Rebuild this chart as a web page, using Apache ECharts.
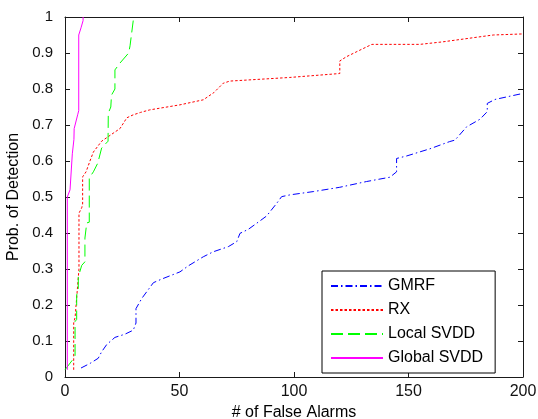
<!DOCTYPE html>
<html>
<head>
<meta charset="utf-8">
<script src="https://cdn.jsdelivr.net/npm/echarts@6/dist/echarts.min.js"></script>
<style>
html,body{margin:0;padding:0;background:#fff;}
#chart{width:538px;height:419px;}
</style>
</head>
<body>
<div id="chart"></div>
<script>
var seriesNames = ['GMRF', 'RX', 'Local SVDD', 'Global SVDD'];

var gmrfX = [7, 11, 14.5, 16, 18.2, 21.8, 26.2, 29.8, 31, 31, 33.5, 38.6, 42.2, 50.2, 53.9, 60.4, 64.8, 71.3, 75, 76.4, 80, 83.7, 88, 92.4, 94.6, 98.3, 108.4, 120, 131.7, 141.9, 144.8, 144.8, 149.2, 159.4, 168, 170.3, 175.4, 181.2, 184.4, 184.4, 187.8, 194.3, 198.7, 200];
var gmrfY = [0.025, 0.038, 0.052, 0.07, 0.09, 0.11, 0.119, 0.13, 0.15, 0.19, 0.218, 0.262, 0.272, 0.292, 0.309, 0.334, 0.348, 0.362, 0.376, 0.399, 0.41, 0.427, 0.447, 0.482, 0.501, 0.506, 0.515, 0.527, 0.543, 0.555, 0.57, 0.607, 0.614, 0.634, 0.654, 0.658, 0.695, 0.716, 0.737, 0.76, 0.771, 0.78, 0.786, 0.786];

var rxX = [3.8, 3.8, 4.4, 5.1, 6.1, 6.1, 7.3, 7.7, 7.7, 9.2, 10.9, 12.4, 16, 21, 24, 27, 29.7, 33, 37, 50.2, 60.4, 65, 69.1, 72, 98, 120, 120, 123, 128.8, 134, 155, 165, 187, 200];
var rxY = [0.02, 0.15, 0.165, 0.22, 0.3, 0.455, 0.47, 0.48, 0.556, 0.57, 0.6, 0.625, 0.655, 0.677, 0.69, 0.72, 0.728, 0.735, 0.742, 0.756, 0.77, 0.79, 0.816, 0.822, 0.832, 0.843, 0.878, 0.89, 0.908, 0.924, 0.924, 0.931, 0.95, 0.953];

var localX = [0, 3.6, 4.4, 4.4, 5.1, 5.1, 5.8, 5.8, 7.3, 8.7, 8.7, 9.5, 9.5, 10.6, 10.6, 12.4, 14.3, 16, 18.8, 18.9, 20, 20.3, 21.8, 21.8, 24, 27.8, 28.4, 29.8, 29.8];
var localY = [0.02, 0.05, 0.06, 0.154, 0.16, 0.228, 0.24, 0.278, 0.31, 0.32, 0.386, 0.39, 0.428, 0.43, 0.553, 0.57, 0.594, 0.636, 0.655, 0.733, 0.75, 0.783, 0.8, 0.853, 0.872, 0.9, 0.92, 0.99, 1.0];

var globalX = [1, 1, 2.2, 3, 3.2, 3.9, 4, 5.6, 6, 6, 7, 7.9, 7.9];
var globalY = [0.02, 0.5, 0.52, 0.6, 0.62, 0.66, 0.69, 0.73, 0.74, 0.95, 0.97, 0.99, 1.0];

var xTicks = [0, 50, 100, 150, 200];
var yTickLabels = ['0', '0.1', '0.2', '0.3', '0.4', '0.5', '0.6', '0.7', '0.8', '0.9', '1'];

function zip(xs, ys) { return xs.map(function (x, i) { return [x, ys[i]]; }); }

var FONT = '"Liberation Sans", Arial, sans-serif';
var AX = '#1a1a1a';

var chart = echarts.init(document.getElementById('chart'), null, {renderer: 'canvas'});

function xAx(pos, showLabel) {
  return {
    type: 'value', position: pos, min: xTicks[0], max: xTicks[xTicks.length - 1], interval: xTicks[1] - xTicks[0],
    name: showLabel ? '# of False Alarms' : '',
    nameLocation: 'middle', nameGap: 27,
    nameTextStyle: {fontFamily: FONT, fontSize: 16, color: '#000'},
    axisLine: {show: true, onZero: false, lineStyle: {color: AX, width: 1}},
    axisTick: {show: true, inside: true, length: 5, lineStyle: {color: AX}},
    axisLabel: {show: showLabel, fontFamily: FONT, fontSize: 16, color: '#111', margin: 7},
    splitLine: {show: false}
  };
}
function yAx(pos, showLabel) {
  return {
    type: 'value', position: pos, min: 0, max: 1, interval: 0.1,
    name: showLabel ? 'Prob. of Detection' : '',
    nameLocation: 'middle', nameGap: 28,
    nameTextStyle: {fontFamily: FONT, fontSize: 16, color: '#000'},
    axisLine: {show: true, onZero: false, lineStyle: {color: AX, width: 1}},
    axisTick: {show: true, inside: true, length: 5, lineStyle: {color: AX}},
    axisLabel: {show: showLabel, fontFamily: FONT, fontSize: 15, color: '#111', margin: 12,
      formatter: function (v) { return yTickLabels[Math.round(v * 10)]; }},
    splitLine: {show: false}
  };
}

var styles = [
  {color: '#0000ff', type: [7, 3, 1.5, 3]},
  {color: '#ff0000', type: [2.5, 2]},
  {color: '#00ff00', type: [12, 5]},
  {color: '#ff00ff', type: 'solid'}
];
var datas = [zip(gmrfX, gmrfY), zip(rxX, rxY), zip(localX, localY), zip(globalX, globalY)];

var series = seriesNames.map(function (n, i) {
  return {
    name: n, type: 'line', data: datas[i], xAxisIndex: 0, yAxisIndex: 0,
    showSymbol: false, symbol: 'none', animation: false, z: 2 + i,
    lineStyle: {color: styles[i].color, width: 1, type: styles[i].type},
    itemStyle: {color: styles[i].color}
  };
});

chart.setOption({
  animation: false,
  backgroundColor: '#fff',
  grid: {left: 65, right: 15, top: 17, bottom: 42, containLabel: false, outerBoundsMode: 'none'},
  xAxis: [xAx('bottom', true), xAx('top', false)],
  yAxis: [yAx('left', true), yAx('right', false)],
  legend: {
    data: seriesNames, orient: 'vertical', left: 322, top: 271,
    backgroundColor: '#fff', borderColor: '#000', borderWidth: 1, borderRadius: 0,
    padding: [7, 12, 7, 8], itemGap: 8, itemWidth: 52, itemHeight: 14,
    itemStyle: {opacity: 0},
    textStyle: {fontFamily: FONT, fontSize: 16, color: '#000'}
  },
  series: series
});
</script>
</body>
</html>
